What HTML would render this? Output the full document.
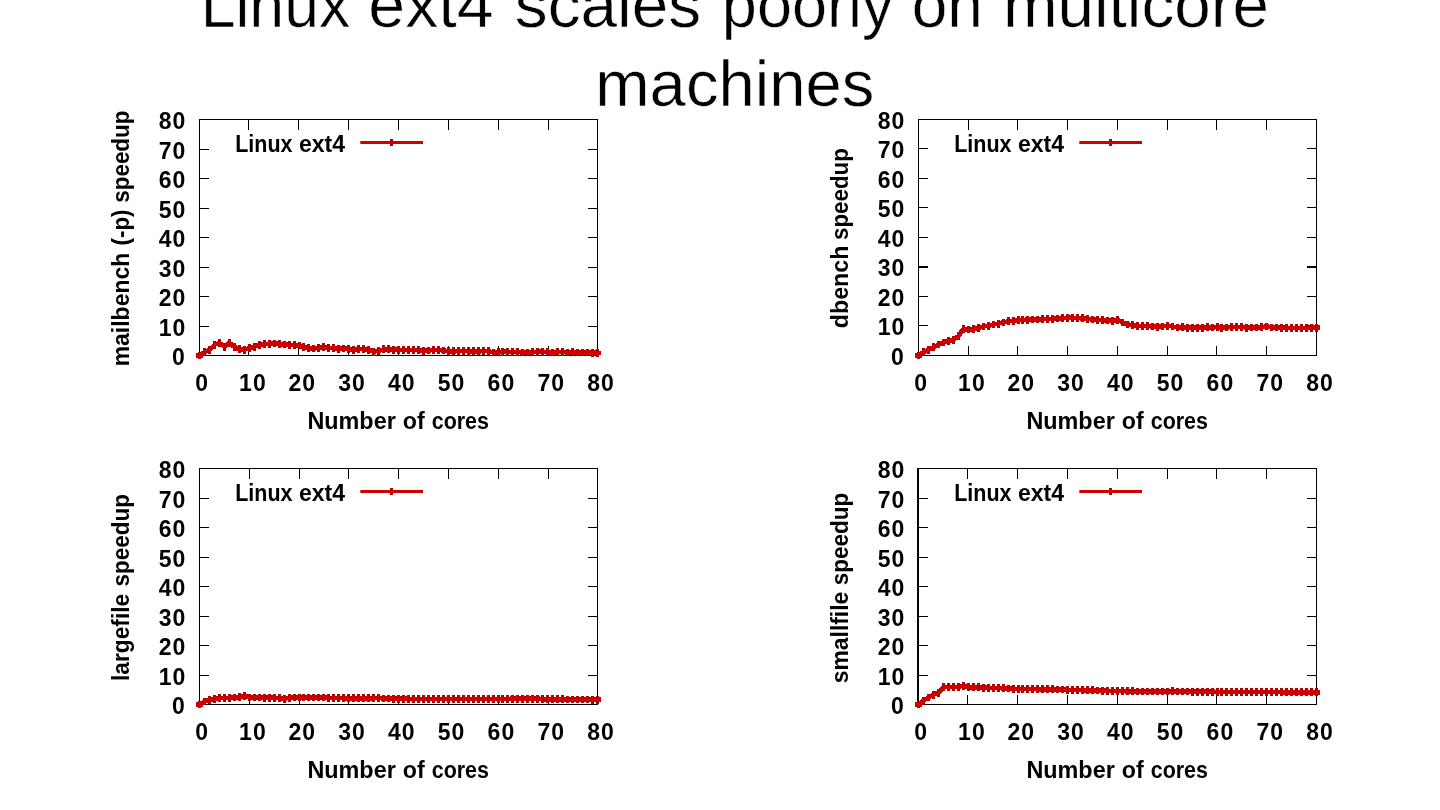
<!DOCTYPE html>
<html lang="en">
<head>
<meta charset="utf-8">
<title>Linux ext4 scales poorly on multicore machines</title>
<style>
html,body{margin:0;padding:0;background:#fff;}
body{width:1440px;height:810px;overflow:hidden;position:relative;}
svg{position:absolute;left:0;top:0;display:block;}
.t{font-family:"Liberation Sans", sans-serif;font-size:64px;fill:#000;}
.b{font-family:"Liberation Sans", sans-serif;font-size:23px;font-weight:bold;fill:#000;}
.n{letter-spacing:1px;}
.t{stroke:#fff;stroke-width:0.5px;}
.ax{stroke:#000;stroke-width:1;fill:none;shape-rendering:crispEdges;}
.ln{stroke:#cc0000;stroke-width:3.2;fill:none;stroke-linejoin:round;}
.mk{stroke:#b00000;stroke-width:3;fill:none;}
</style>
</head>
<body>
<svg width="1440" height="810" viewBox="0 0 1440 810">
<rect width="1440" height="810" fill="#fff"/>
<text class="t">
<tspan x="200.63" y="26.8" textLength="149.64" lengthAdjust="spacingAndGlyphs">Linux</tspan> <tspan x="368.31" y="26.8" textLength="125.28" lengthAdjust="spacingAndGlyphs">ext4</tspan> <tspan x="514.85" y="26.8" textLength="186.18" lengthAdjust="spacingAndGlyphs">scales</tspan> <tspan x="721.86" y="26.8" textLength="171.53" lengthAdjust="spacingAndGlyphs">poorly</tspan> <tspan x="911.68" y="26.8" textLength="71.29" lengthAdjust="spacingAndGlyphs">on</tspan> <tspan x="1003" y="26.8" textLength="265.91" lengthAdjust="spacingAndGlyphs">multicore</tspan> <tspan x="595.3" y="105.7" textLength="279.12" lengthAdjust="spacingAndGlyphs">machines</tspan>
</text>
<g>
<path class="ax" d="M199.5 119.5H597.5V355.5H199.5ZM248.5 355.5v-10M248.5 119.5v10M199.5 326.5h9.5M597.5 326.5h-9.5M298.5 355.5v-10M298.5 119.5v10M199.5 296.5h9.5M597.5 296.5h-9.5M348.5 355.5v-10M348.5 119.5v10M199.5 267.5h9.5M597.5 267.5h-9.5M398.5 355.5v-10M398.5 119.5v10M199.5 237.5h9.5M597.5 237.5h-9.5M448.5 355.5v-10M448.5 119.5v10M199.5 208.5h9.5M597.5 208.5h-9.5M498.5 355.5v-10M498.5 119.5v10M199.5 178.5h9.5M597.5 178.5h-9.5M548.5 355.5v-10M548.5 119.5v10M199.5 149.5h9.5M597.5 149.5h-9.5"/>
<g class="b n" text-anchor="end">
<text x="185.7" y="364.6">0</text>
<text x="186.4" y="335.6">10</text>
<text x="186.4" y="305.6">20</text>
<text x="186.4" y="276.6">30</text>
<text x="186.4" y="246.6">40</text>
<text x="186.4" y="217.6">50</text>
<text x="186.4" y="187.6">60</text>
<text x="186.4" y="158.6">70</text>
<text x="186.4" y="128.6">80</text>
</g>
<g class="b n" text-anchor="middle">
<text x="202.1" y="390.8">0</text>
<text x="252.9" y="390.8">10</text>
<text x="302.2" y="390.8">20</text>
<text x="352" y="390.8">30</text>
<text x="401.8" y="390.8">40</text>
<text x="451.6" y="390.8">50</text>
<text x="501.4" y="390.8">60</text>
<text x="551.2" y="390.8">70</text>
<text x="601" y="390.8">80</text>
</g>
<text class="b"><tspan x="307.43" y="428.7" textLength="88.31" lengthAdjust="spacingAndGlyphs">Number</tspan> <tspan x="402.77" y="428.7" textLength="21.88" lengthAdjust="spacingAndGlyphs">of</tspan> <tspan x="431.78" y="428.7" textLength="57.16" lengthAdjust="spacingAndGlyphs">cores</tspan></text>
<text class="b" transform="translate(128.5 0) rotate(-90)"><tspan x="-366.33" y="0" textLength="113.55" lengthAdjust="spacingAndGlyphs">mailbench</tspan> <tspan x="-245.46" y="0" textLength="36" lengthAdjust="spacingAndGlyphs">(-p)</tspan> <tspan x="-202.81" y="0" textLength="92.31" lengthAdjust="spacingAndGlyphs">speedup</tspan></text>
<text class="b"><tspan x="235.18" y="151.8" textLength="57.32" lengthAdjust="spacingAndGlyphs">Linux</tspan> <tspan x="298.93" y="151.8" textLength="46.07" lengthAdjust="spacingAndGlyphs">ext4</tspan></text>
<path class="mk" d="M391.5 139v7"/>
<path class="ln" d="M360.3 142.5H423"/>
<path class="mk" shape-rendering="crispEdges" d="M199.5 351.6v7.8M204.47 348.36v7.8M209.45 346v7.8M214.43 340.98v7.8M219.4 338.92v7.8M224.38 342.75v7.8M229.35 338.92v7.8M234.32 343.05v7.8M239.3 345.41v7.8M244.28 345.7v7.8M249.25 344.23v7.8M254.22 342.75v7.8M259.2 340.98v7.8M264.18 340.39v7.8M269.15 340.1v7.8M274.12 339.5v7.8M279.1 340.1v7.8M284.07 340.69v7.8M289.05 340.98v7.8M294.02 341.28v7.8M299 341.57v7.8M303.98 343.05v7.8M308.95 344.23v7.8M313.93 344.52v7.8M318.9 343.93v7.8M323.88 343.34v7.8M328.85 343.93v7.8M333.82 344.23v7.8M338.8 344.81v7.8M343.77 344.52v7.8M348.75 345.11v7.8M353.73 345.7v7.8M358.7 345.41v7.8M363.68 344.81v7.8M368.65 346v7.8M373.62 347.77v7.8M378.6 346.88v7.8M383.57 345.41v7.8M388.55 345.41v7.8M393.52 345.7v7.8M398.5 346v7.8M403.48 346v7.8M408.45 346.29v7.8M413.43 346v7.8M418.4 346.29v7.8M423.38 346.88v7.8M428.35 346.59v7.8M433.32 346v7.8M438.3 346v7.8M443.27 346.59v7.8M448.25 347.18v7.8M453.23 347.47v7.8M458.2 347.18v7.8M463.18 346.88v7.8M468.15 347.18v7.8M473.12 347.47v7.8M478.1 347.47v7.8M483.07 347.18v7.8M488.05 346.88v7.8M493.02 348.65v7.8M498 348.21v7.8M502.98 347.77v7.8M507.95 347.77v7.8M512.92 348.36v7.8M517.9 348.06v7.8M522.88 348.65v7.8M527.85 348.65v7.8M532.83 348.36v7.8M537.8 347.77v7.8M542.77 347.77v7.8M547.75 348.36v7.8M552.73 348.65v7.8M557.7 348.36v7.8M562.67 348.06v7.8M567.65 348.65v7.8M572.62 348.36v7.8M577.6 348.65v7.8M582.58 348.65v7.8M587.55 348.65v7.8M592.52 348.8v7.8M597.5 348.95v7.8"/>
<path class="ln" style="stroke-width:4.6" shape-rendering="crispEdges" d="M199.5 355.5L204.47 352.25L209.45 349.89L214.43 344.88L219.4 342.81L224.38 346.65L229.35 342.81L234.32 346.94L239.3 349.31L244.28 349.6L249.25 348.12L254.22 346.65L259.2 344.88L264.18 344.29L269.15 344L274.12 343.4L279.1 344L284.07 344.58L289.05 344.88L294.02 345.18L299 345.47L303.98 346.94L308.95 348.12L313.93 348.42L318.9 347.83L323.88 347.24L328.85 347.83L333.82 348.12L338.8 348.71L343.77 348.42L348.75 349.01L353.73 349.6L358.7 349.31L363.68 348.71L368.65 349.89L373.62 351.67L378.6 350.78L383.57 349.31L388.55 349.31L393.52 349.6L398.5 349.89L403.48 349.89L408.45 350.19L413.43 349.89L418.4 350.19L423.38 350.78L428.35 350.49L433.32 349.89L438.3 349.89L443.27 350.49L448.25 351.07L453.23 351.37L458.2 351.07L463.18 350.78L468.15 351.07L473.12 351.37L478.1 351.37L483.07 351.07L488.05 350.78L493.02 352.55L498 352.11L502.98 351.67L507.95 351.67L512.92 352.25L517.9 351.96L522.88 352.55L527.85 352.55L532.83 352.25L537.8 351.67L542.77 351.67L547.75 352.25L552.73 352.55L557.7 352.25L562.67 351.96L567.65 352.55L572.62 352.25L577.6 352.55L582.58 352.55L587.55 352.55L592.52 352.7L597.5 352.85M196 355.5h7M594 352.85h7"/>
</g>
<g>
<path class="ax" d="M918.5 119.5H1316.5V355.5H918.5ZM968.5 355.5v-10M968.5 119.5v10M918.5 325.5h9.5M1316.5 325.5h-9.5M1017.5 355.5v-10M1017.5 119.5v10M918.5 296.5h9.5M1316.5 296.5h-9.5M1067.5 355.5v-10M1067.5 119.5v10M918.5 266.5h9.5M1316.5 266.5h-9.5M1117.5 355.5v-10M1117.5 119.5v10M918.5 237.5h9.5M1316.5 237.5h-9.5M1167.5 355.5v-10M1167.5 119.5v10M918.5 207.5h9.5M1316.5 207.5h-9.5M1216.5 355.5v-10M1216.5 119.5v10M918.5 178.5h9.5M1316.5 178.5h-9.5M1266.5 355.5v-10M1266.5 119.5v10M918.5 148.5h9.5M1316.5 148.5h-9.5"/>
<path class="ax" d="M918.5 267.5h9.5M1316.5 267.5h-9.5"/>
<g class="b n" text-anchor="end">
<text x="904.7" y="364.6">0</text>
<text x="905.4" y="334.6">10</text>
<text x="905.4" y="305.6">20</text>
<text x="905.4" y="275.6">30</text>
<text x="905.4" y="246.6">40</text>
<text x="905.4" y="216.6">50</text>
<text x="905.4" y="187.6">60</text>
<text x="905.4" y="157.6">70</text>
<text x="905.4" y="128.6">80</text>
</g>
<g class="b n" text-anchor="middle">
<text x="921.1" y="390.8">0</text>
<text x="971.9" y="390.8">10</text>
<text x="1021.2" y="390.8">20</text>
<text x="1071" y="390.8">30</text>
<text x="1120.8" y="390.8">40</text>
<text x="1170.6" y="390.8">50</text>
<text x="1220.4" y="390.8">60</text>
<text x="1270.2" y="390.8">70</text>
<text x="1320" y="390.8">80</text>
</g>
<text class="b"><tspan x="1026.43" y="428.7" textLength="88.31" lengthAdjust="spacingAndGlyphs">Number</tspan> <tspan x="1121.77" y="428.7" textLength="21.88" lengthAdjust="spacingAndGlyphs">of</tspan> <tspan x="1150.78" y="428.7" textLength="57.16" lengthAdjust="spacingAndGlyphs">cores</tspan></text>
<text class="b" transform="translate(847.5 0) rotate(-90)"><tspan x="-328.22" y="0" textLength="82.54" lengthAdjust="spacingAndGlyphs">dbench</tspan> <tspan x="-240.05" y="0" textLength="91.99" lengthAdjust="spacingAndGlyphs">speedup</tspan></text>
<text class="b"><tspan x="954.18" y="151.8" textLength="57.32" lengthAdjust="spacingAndGlyphs">Linux</tspan> <tspan x="1017.93" y="151.8" textLength="46.07" lengthAdjust="spacingAndGlyphs">ext4</tspan></text>
<path class="mk" d="M1110.5 139v7"/>
<path class="ln" d="M1079.3 142.5H1142"/>
<path class="mk" shape-rendering="crispEdges" d="M918.5 351.6v7.8M923.48 348.36v7.8M928.45 345.7v7.8M933.42 343.34v7.8M938.4 340.69v7.8M943.38 338.62v7.8M948.35 337.15v7.8M953.33 335.97v7.8M958.3 332.13v7.8M963.27 325.35v7.8M968.25 325.64v7.8M973.23 325.35v7.8M978.2 323.87v7.8M983.17 322.69v7.8M988.15 321.81v7.8M993.12 320.62v7.8M998.1 319.74v7.8M1003.08 318.56v7.8M1008.05 317.38v7.8M1013.02 316.79v7.8M1018 316.2v7.8M1022.98 316.05v7.8M1027.95 315.76v7.8M1032.92 315.61v7.8M1037.9 315.61v7.8M1042.88 315.31v7.8M1047.85 315.17v7.8M1052.83 314.87v7.8M1057.8 314.58v7.8M1062.78 314.28v7.8M1067.75 313.84v7.8M1072.72 313.84v7.8M1077.7 314.14v7.8M1082.67 314.43v7.8M1087.65 314.87v7.8M1092.62 315.61v7.8M1097.6 315.91v7.8M1102.58 316.35v7.8M1107.55 316.64v7.8M1112.53 317.09v7.8M1117.5 315.91v7.8M1122.47 318.56v7.8M1127.45 320.62v7.8M1132.42 321.22v7.8M1137.4 322.1v7.8M1142.38 322.1v7.8M1147.35 322.1v7.8M1152.33 322.54v7.8M1157.3 322.84v7.8M1162.28 322.54v7.8M1167.25 321.81v7.8M1172.22 322.54v7.8M1177.2 323.58v7.8M1182.17 323.28v7.8M1187.15 323.87v7.8M1192.12 323.87v7.8M1197.1 323.87v7.8M1202.08 323.72v7.8M1207.05 323.28v7.8M1212.03 323.58v7.8M1217 323.13v7.8M1221.97 323.87v7.8M1226.95 323.58v7.8M1231.92 322.84v7.8M1236.9 323.28v7.8M1241.88 322.84v7.8M1246.85 323.87v7.8M1251.83 323.58v7.8M1256.8 323.58v7.8M1261.78 323.28v7.8M1266.75 322.54v7.8M1271.72 323.58v7.8M1276.7 323.58v7.8M1281.67 323.87v7.8M1286.65 323.87v7.8M1291.62 324.17v7.8M1296.6 324.17v7.8M1301.58 324.02v7.8M1306.55 324.17v7.8M1311.53 324.02v7.8M1316.5 323.87v7.8"/>
<path class="ln" style="stroke-width:4.6" shape-rendering="crispEdges" d="M918.5 355.5L923.48 352.25L928.45 349.6L933.42 347.24L938.4 344.58L943.38 342.52L948.35 341.05L953.33 339.87L958.3 336.03L963.27 329.25L968.25 329.54L973.23 329.25L978.2 327.77L983.17 326.59L988.15 325.7L993.12 324.52L998.1 323.64L1003.08 322.46L1008.05 321.28L1013.02 320.69L1018 320.1L1022.98 319.95L1027.95 319.66L1032.92 319.51L1037.9 319.51L1042.88 319.21L1047.85 319.07L1052.83 318.77L1057.8 318.48L1062.78 318.18L1067.75 317.74L1072.72 317.74L1077.7 318.04L1082.67 318.33L1087.65 318.77L1092.62 319.51L1097.6 319.81L1102.58 320.25L1107.55 320.54L1112.53 320.99L1117.5 319.81L1122.47 322.46L1127.45 324.52L1132.42 325.12L1137.4 326L1142.38 326L1147.35 326L1152.33 326.44L1157.3 326.74L1162.28 326.44L1167.25 325.7L1172.22 326.44L1177.2 327.48L1182.17 327.18L1187.15 327.77L1192.12 327.77L1197.1 327.77L1202.08 327.62L1207.05 327.18L1212.03 327.48L1217 327.03L1221.97 327.77L1226.95 327.48L1231.92 326.74L1236.9 327.18L1241.88 326.74L1246.85 327.77L1251.83 327.48L1256.8 327.48L1261.78 327.18L1266.75 326.44L1271.72 327.48L1276.7 327.48L1281.67 327.77L1286.65 327.77L1291.62 328.06L1296.6 328.06L1301.58 327.92L1306.55 328.06L1311.53 327.92L1316.5 327.77M915 355.5h7M1313 327.77h7"/>
</g>
<g>
<path class="ax" d="M199.5 468.5H597.5V704.5H199.5ZM249.5 704.5v-10M249.5 468.5v10M199.5 675.5h9.5M597.5 675.5h-9.5M299.5 704.5v-10M299.5 468.5v10M199.5 645.5h9.5M597.5 645.5h-9.5M348.5 704.5v-10M348.5 468.5v10M199.5 616.5h9.5M597.5 616.5h-9.5M398.5 704.5v-10M398.5 468.5v10M199.5 586.5h9.5M597.5 586.5h-9.5M448.5 704.5v-10M448.5 468.5v10M199.5 557.5h9.5M597.5 557.5h-9.5M498.5 704.5v-10M498.5 468.5v10M199.5 527.5h9.5M597.5 527.5h-9.5M548.5 704.5v-10M548.5 468.5v10M199.5 498.5h9.5M597.5 498.5h-9.5"/>
<g class="b n" text-anchor="end">
<text x="185.7" y="713.6">0</text>
<text x="186.4" y="684.6">10</text>
<text x="186.4" y="654.6">20</text>
<text x="186.4" y="625.6">30</text>
<text x="186.4" y="595.6">40</text>
<text x="186.4" y="566.6">50</text>
<text x="186.4" y="536.6">60</text>
<text x="186.4" y="507.6">70</text>
<text x="186.4" y="477.6">80</text>
</g>
<g class="b n" text-anchor="middle">
<text x="202.1" y="739.8">0</text>
<text x="252.9" y="739.8">10</text>
<text x="302.2" y="739.8">20</text>
<text x="352" y="739.8">30</text>
<text x="401.8" y="739.8">40</text>
<text x="451.6" y="739.8">50</text>
<text x="501.4" y="739.8">60</text>
<text x="551.2" y="739.8">70</text>
<text x="601" y="739.8">80</text>
</g>
<text class="b"><tspan x="307.43" y="777.7" textLength="88.31" lengthAdjust="spacingAndGlyphs">Number</tspan> <tspan x="402.77" y="777.7" textLength="21.88" lengthAdjust="spacingAndGlyphs">of</tspan> <tspan x="431.78" y="777.7" textLength="57.16" lengthAdjust="spacingAndGlyphs">cores</tspan></text>
<text class="b" transform="translate(128.5 0) rotate(-90)"><tspan x="-680.97" y="0" textLength="87.15" lengthAdjust="spacingAndGlyphs">largefile</tspan> <tspan x="-586.48" y="0" textLength="92.33" lengthAdjust="spacingAndGlyphs">speedup</tspan></text>
<text class="b"><tspan x="235.18" y="500.8" textLength="57.32" lengthAdjust="spacingAndGlyphs">Linux</tspan> <tspan x="298.93" y="500.8" textLength="46.07" lengthAdjust="spacingAndGlyphs">ext4</tspan></text>
<path class="mk" d="M391.5 488v7"/>
<path class="ln" d="M360.3 491.5H423"/>
<path class="mk" shape-rendering="crispEdges" d="M199.5 700.6v7.8M204.47 697.5v7.8M209.45 695.88v7.8M214.43 695v7.8M219.4 694.4v7.8M224.38 694.11v7.8M229.35 693.82v7.8M234.32 693.52v7.8M239.3 693.23v7.8M244.28 692.05v7.8M249.25 693.52v7.8M254.22 693.52v7.8M259.2 693.52v7.8M264.18 693.82v7.8M269.15 693.82v7.8M274.12 693.82v7.8M279.1 694.11v7.8M284.07 694.7v7.8M289.05 693.96v7.8M294.02 693.52v7.8M299 693.52v7.8M303.98 693.55v7.8M308.95 693.58v7.8M313.93 693.61v7.8M318.9 693.64v7.8M323.88 693.67v7.8M328.85 694.11v7.8M333.82 694.26v7.8M338.8 694.11v7.8M343.77 694.26v7.8M348.75 694.4v7.8M353.73 694.4v7.8M358.7 694.4v7.8M363.68 694.4v7.8M368.65 694.4v7.8M373.62 694.4v7.8M378.6 694.11v7.8M383.57 694.55v7.8M388.55 694.65v7.8M393.52 694.75v7.8M398.5 694.85v7.8M403.48 694.88v7.8M408.45 694.91v7.8M413.43 694.94v7.8M418.4 694.97v7.8M423.38 695v7.8M428.35 695v7.8M433.32 695v7.8M438.3 695v7.8M443.27 695v7.8M448.25 695v7.8M453.23 695v7.8M458.2 695v7.8M463.18 695v7.8M468.15 695v7.8M473.12 695v7.8M478.1 695.02v7.8M483.07 695.05v7.8M488.05 695.08v7.8M493.02 695.11v7.8M498 695.14v7.8M502.98 695.14v7.8M507.95 695.14v7.8M512.92 694.7v7.8M517.9 694.7v7.8M522.88 694.7v7.8M527.85 694.7v7.8M532.83 694.7v7.8M537.8 694.7v7.8M542.77 695.29v7.8M547.75 695.34v7.8M552.73 695.39v7.8M557.7 695.44v7.8M562.67 695.49v7.8M567.65 695.54v7.8M572.62 695.59v7.8M577.6 695.61v7.8M582.58 695.64v7.8M587.55 695.67v7.8M592.52 695.7v7.8M597.5 695.73v7.8"/>
<path class="ln" style="stroke-width:4.6" shape-rendering="crispEdges" d="M199.5 704.5L204.47 701.4L209.45 699.78L214.43 698.89L219.4 698.3L224.38 698.01L229.35 697.72L234.32 697.42L239.3 697.12L244.28 695.95L249.25 697.42L254.22 697.42L259.2 697.42L264.18 697.72L269.15 697.72L274.12 697.72L279.1 698.01L284.07 698.6L289.05 697.86L294.02 697.42L299 697.42L303.98 697.45L308.95 697.48L313.93 697.51L318.9 697.54L323.88 697.57L328.85 698.01L333.82 698.16L338.8 698.01L343.77 698.16L348.75 698.3L353.73 698.3L358.7 698.3L363.68 698.3L368.65 698.3L373.62 698.3L378.6 698.01L383.57 698.45L388.55 698.55L393.52 698.65L398.5 698.75L403.48 698.78L408.45 698.81L413.43 698.84L418.4 698.87L423.38 698.89L428.35 698.89L433.32 698.89L438.3 698.89L443.27 698.89L448.25 698.89L453.23 698.89L458.2 698.89L463.18 698.89L468.15 698.89L473.12 698.89L478.1 698.92L483.07 698.95L488.05 698.98L493.02 699.01L498 699.04L502.98 699.04L507.95 699.04L512.92 698.6L517.9 698.6L522.88 698.6L527.85 698.6L532.83 698.6L537.8 698.6L542.77 699.19L547.75 699.24L552.73 699.29L557.7 699.34L562.67 699.39L567.65 699.44L572.62 699.49L577.6 699.51L582.58 699.54L587.55 699.57L592.52 699.6L597.5 699.63M196 704.5h7M594 699.63h7"/>
</g>
<g>
<path class="ax" d="M918.5 468.5H1316.5V704.5H918.5ZM967.5 704.5v-10M967.5 468.5v10M918.5 675.5h9.5M1316.5 675.5h-9.5M1017.5 704.5v-10M1017.5 468.5v10M918.5 645.5h9.5M1316.5 645.5h-9.5M1067.5 704.5v-10M1067.5 468.5v10M918.5 616.5h9.5M1316.5 616.5h-9.5M1117.5 704.5v-10M1117.5 468.5v10M918.5 586.5h9.5M1316.5 586.5h-9.5M1167.5 704.5v-10M1167.5 468.5v10M918.5 557.5h9.5M1316.5 557.5h-9.5M1216.5 704.5v-10M1216.5 468.5v10M918.5 527.5h9.5M1316.5 527.5h-9.5M1266.5 704.5v-10M1266.5 468.5v10M918.5 498.5h9.5M1316.5 498.5h-9.5"/>
<path class="ax" d="M917.5 468V705"/>
<g class="b n" text-anchor="end">
<text x="904.7" y="713.6">0</text>
<text x="905.4" y="684.6">10</text>
<text x="905.4" y="654.6">20</text>
<text x="905.4" y="625.6">30</text>
<text x="905.4" y="595.6">40</text>
<text x="905.4" y="566.6">50</text>
<text x="905.4" y="536.6">60</text>
<text x="905.4" y="507.6">70</text>
<text x="905.4" y="477.6">80</text>
</g>
<g class="b n" text-anchor="middle">
<text x="921.1" y="739.8">0</text>
<text x="971.9" y="739.8">10</text>
<text x="1021.2" y="739.8">20</text>
<text x="1071" y="739.8">30</text>
<text x="1120.8" y="739.8">40</text>
<text x="1170.6" y="739.8">50</text>
<text x="1220.4" y="739.8">60</text>
<text x="1270.2" y="739.8">70</text>
<text x="1320" y="739.8">80</text>
</g>
<text class="b"><tspan x="1026.43" y="777.7" textLength="88.31" lengthAdjust="spacingAndGlyphs">Number</tspan> <tspan x="1121.77" y="777.7" textLength="21.88" lengthAdjust="spacingAndGlyphs">of</tspan> <tspan x="1150.78" y="777.7" textLength="57.16" lengthAdjust="spacingAndGlyphs">cores</tspan></text>
<text class="b" transform="translate(847.5 0) rotate(-90)"><tspan x="-683.17" y="0" textLength="91.39" lengthAdjust="spacingAndGlyphs">smallfile</tspan> <tspan x="-585.22" y="0" textLength="92.54" lengthAdjust="spacingAndGlyphs">speedup</tspan></text>
<text class="b"><tspan x="954.18" y="500.8" textLength="57.32" lengthAdjust="spacingAndGlyphs">Linux</tspan> <tspan x="1017.93" y="500.8" textLength="46.07" lengthAdjust="spacingAndGlyphs">ext4</tspan></text>
<path class="mk" d="M1110.5 488v7"/>
<path class="ln" d="M1079.3 491.5H1142"/>
<path class="mk" shape-rendering="crispEdges" d="M918.5 700.6v7.8M923.48 696.76v7.8M928.45 693.52v7.8M933.42 690.87v7.8M938.4 688.8v7.8M943.38 683.2v7.8M948.35 683.2v7.8M953.33 682.9v7.8M958.3 682.9v7.8M963.27 681.72v7.8M968.25 683.2v7.8M973.23 683.49v7.8M978.2 683.49v7.8M983.17 683.78v7.8M988.15 683.93v7.8M993.12 684.38v7.8M998.1 684.23v7.8M1003.08 684.38v7.8M1008.05 684.67v7.8M1013.02 684.97v7.8M1018 684.97v7.8M1022.98 684.97v7.8M1027.95 684.97v7.8M1032.92 685.26v7.8M1037.9 685.31v7.8M1042.88 685.36v7.8M1047.85 685.41v7.8M1052.83 685.46v7.8M1057.8 685.51v7.8M1062.78 685.56v7.8M1067.75 686.14v7.8M1072.72 686.2v7.8M1077.7 686.26v7.8M1082.67 686.32v7.8M1087.65 686.38v7.8M1092.62 686.44v7.8M1097.6 686.62v7.8M1102.58 686.79v7.8M1107.55 686.97v7.8M1112.53 687.15v7.8M1117.5 687.33v7.8M1122.47 687.03v7.8M1127.45 687.47v7.8M1132.42 687.49v7.8M1137.4 687.51v7.8M1142.38 687.53v7.8M1147.35 687.55v7.8M1152.33 687.56v7.8M1157.3 687.58v7.8M1162.28 687.6v7.8M1167.25 687.62v7.8M1172.22 687.33v7.8M1177.2 687.62v7.8M1182.17 687.66v7.8M1187.15 687.69v7.8M1192.12 687.73v7.8M1197.1 687.77v7.8M1202.08 687.8v7.8M1207.05 687.84v7.8M1212.03 687.88v7.8M1217 687.92v7.8M1221.97 687.99v7.8M1226.95 688.06v7.8M1231.92 688.14v7.8M1236.9 688.21v7.8M1241.88 687.92v7.8M1246.85 687.97v7.8M1251.83 688.03v7.8M1256.8 688.09v7.8M1261.78 688.15v7.8M1266.75 688.21v7.8M1271.72 688.24v7.8M1276.7 688.27v7.8M1281.67 688.3v7.8M1286.65 688.33v7.8M1291.62 688.36v7.8M1296.6 688.36v7.8M1301.58 688.36v7.8M1306.55 688.36v7.8M1311.53 688.36v7.8M1316.5 688.36v7.8"/>
<path class="ln" style="stroke-width:4.6" shape-rendering="crispEdges" d="M918.5 704.5L923.48 700.66L928.45 697.42L933.42 694.76L938.4 692.7L943.38 687.1L948.35 687.1L953.33 686.8L958.3 686.8L963.27 685.62L968.25 687.1L973.23 687.39L978.2 687.39L983.17 687.68L988.15 687.83L993.12 688.27L998.1 688.13L1003.08 688.27L1008.05 688.57L1013.02 688.87L1018 688.87L1022.98 688.87L1027.95 688.87L1032.92 689.16L1037.9 689.21L1042.88 689.26L1047.85 689.31L1052.83 689.36L1057.8 689.41L1062.78 689.46L1067.75 690.04L1072.72 690.1L1077.7 690.16L1082.67 690.22L1087.65 690.28L1092.62 690.34L1097.6 690.52L1102.58 690.69L1107.55 690.87L1112.53 691.05L1117.5 691.23L1122.47 690.93L1127.45 691.37L1132.42 691.39L1137.4 691.41L1142.38 691.43L1147.35 691.45L1152.33 691.46L1157.3 691.48L1162.28 691.5L1167.25 691.52L1172.22 691.23L1177.2 691.52L1182.17 691.56L1187.15 691.59L1192.12 691.63L1197.1 691.67L1202.08 691.7L1207.05 691.74L1212.03 691.78L1217 691.82L1221.97 691.89L1226.95 691.96L1231.92 692.04L1236.9 692.11L1241.88 691.82L1246.85 691.87L1251.83 691.93L1256.8 691.99L1261.78 692.05L1266.75 692.11L1271.72 692.14L1276.7 692.17L1281.67 692.2L1286.65 692.23L1291.62 692.26L1296.6 692.26L1301.58 692.26L1306.55 692.26L1311.53 692.26L1316.5 692.26M915 704.5h7M1313 692.26h7"/>
</g>
</svg>
</body>
</html>
